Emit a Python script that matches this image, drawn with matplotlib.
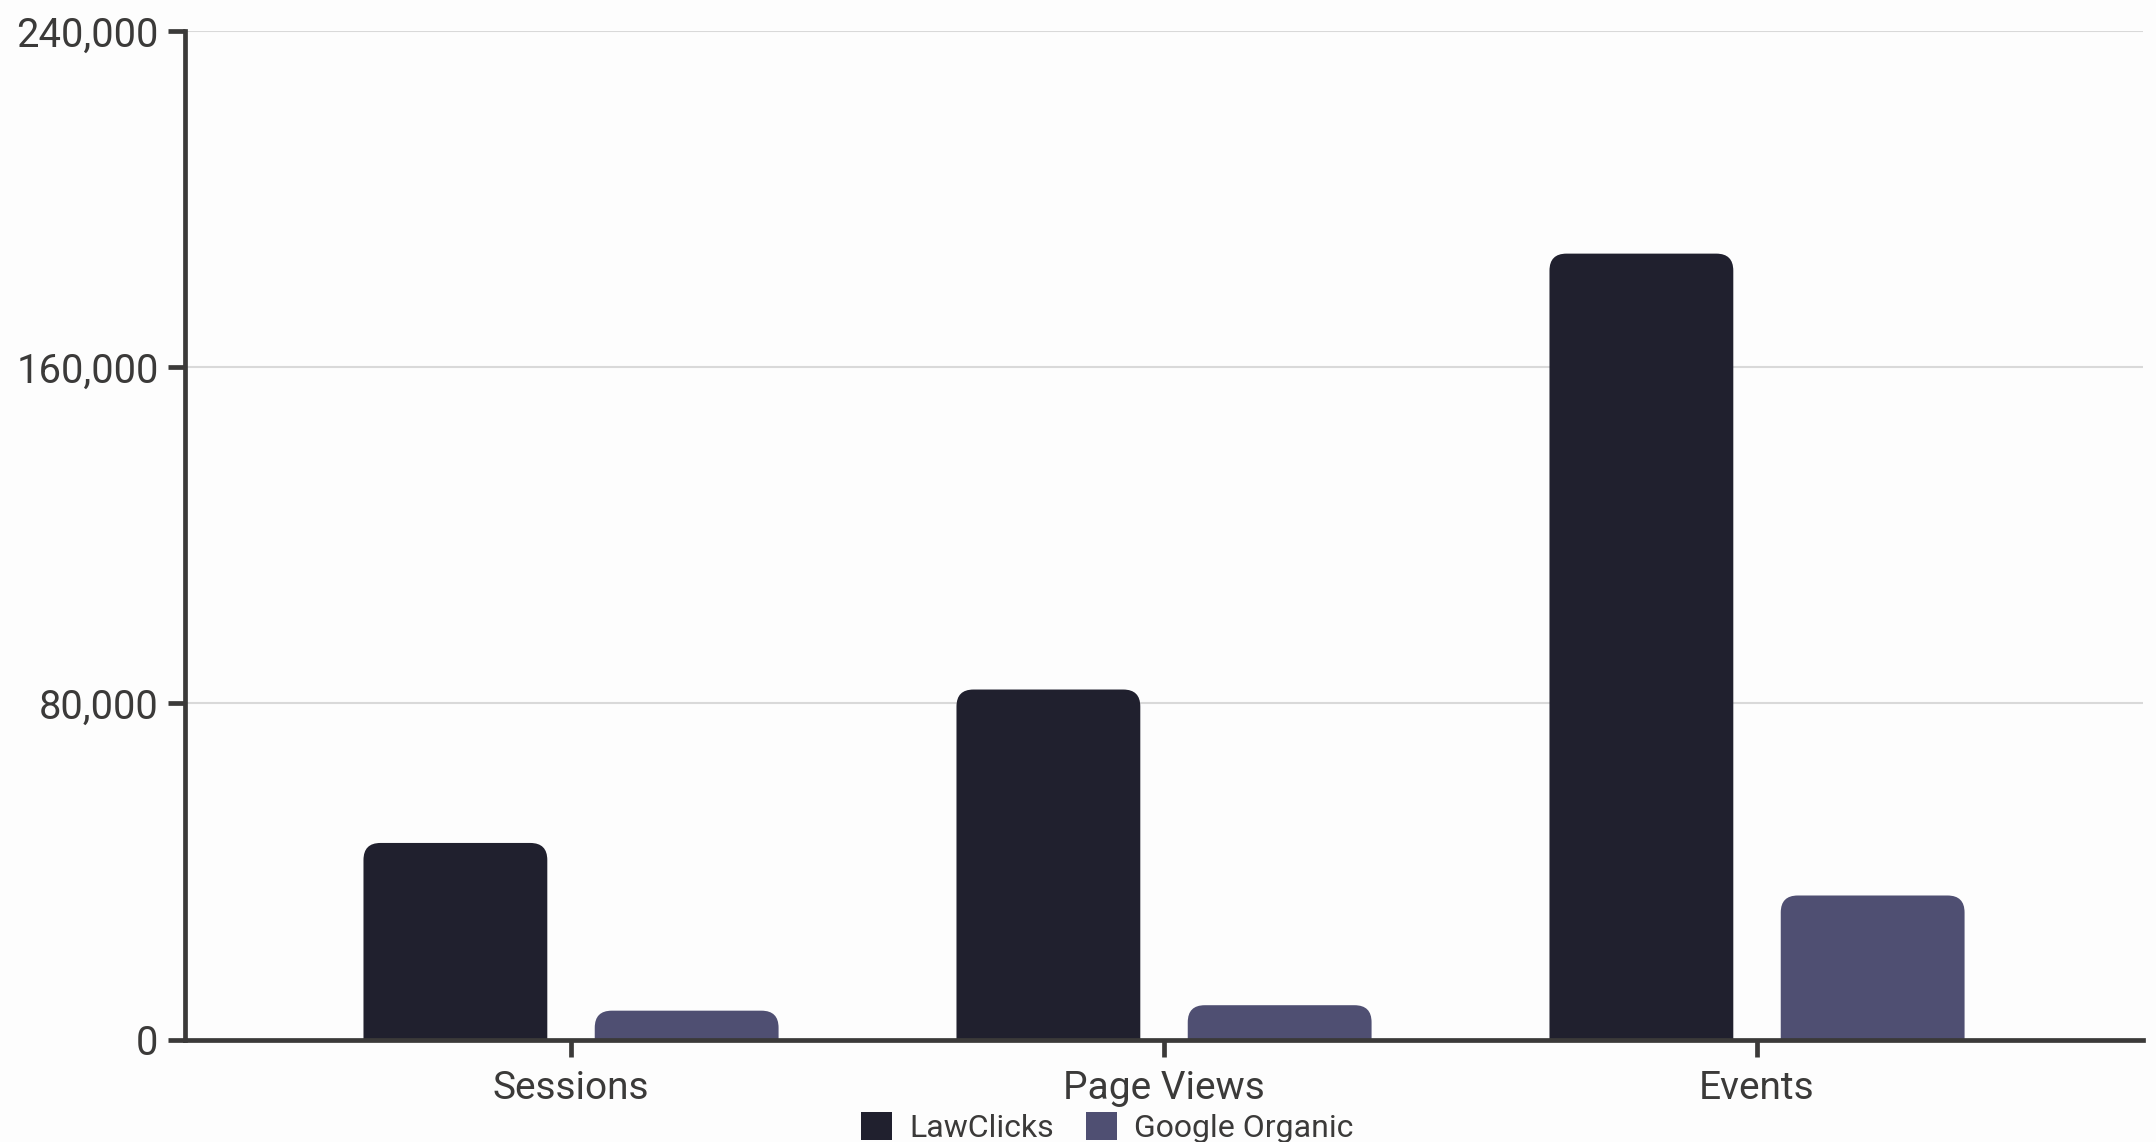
import numpy as np
import matplotlib.pyplot as plt
from matplotlib.patches import FancyBboxPatch, Patch
from matplotlib.ticker import FuncFormatter

# data
categories = ["Sessions", "Page Views", "Events"]
series_names = ["LawClicks", "Google Organic"]
lawclicks = [46800, 83300, 187000]
google_organic = [6900, 8200, 34300]
y_ticks = [0, 80000, 160000, 240000]

BG = "#fdfdfd"
TXT = "#3b3a39"
COLORS = ["#20202e", "#4f4f72"]

plt.rcParams['font.family'] = ['Roboto', 'DejaVu Sans']

fig = plt.figure(figsize=(21.56, 11.42), dpi=100, facecolor=BG)
ax = fig.add_axes([0.0858, 0.0896, 0.9082, 0.8834])
ax.set_facecolor(BG)

x = np.arange(len(categories))
width = 0.31
offset = 0.195
bars_a = ax.bar(x - offset, lawclicks, width, color=COLORS[0])
bars_b = ax.bar(x + offset, google_organic, width, color=COLORS[1])
ax.set_xlim(-0.651, 2.651)
ax.set_ylim(y_ticks[0], y_ticks[-1])

# swap plain bars for ones with rounded tops
px = ax.transData.transform([(0, 0), (1, 1)])
px_per_x = px[1, 0] - px[0, 0]
px_per_y = px[1, 1] - px[0, 1]
aspect = px_per_x / px_per_y
r = 17 / px_per_x
for bars, c in zip([bars_a, bars_b], COLORS):
    for b in bars:
        x0, y0 = b.get_x(), b.get_y()
        w, h = b.get_width(), b.get_height()
        b.remove()
        ax.add_patch(FancyBboxPatch((x0, y0 - r * aspect), w, h + r * aspect,
                                    boxstyle=f"round,pad=0,rounding_size={r}",
                                    mutation_aspect=aspect, facecolor=c,
                                    edgecolor="none", zorder=2))

# axes styling
for s in ["top", "right"]:
    ax.spines[s].set_visible(False)
for s in ["left", "bottom"]:
    ax.spines[s].set_linewidth(3.4)
    ax.spines[s].set_color(TXT)
    ax.spines[s].set_zorder(3)

ax.set_yticks(y_ticks)
ax.yaxis.set_major_formatter(FuncFormatter(lambda v, p: f"{int(v):,}"))
ax.set_xticks(x)
ax.set_xticklabels(categories)
ax.tick_params(axis="y", length=12, width=3.4, color=TXT, labelcolor=TXT,
               labelsize=28.7, pad=7)
ax.tick_params(axis="x", length=12, width=3.4, color=TXT, labelcolor=TXT,
               labelsize=28, pad=10)
ax.yaxis.grid(True, color="#d9d9d9", linewidth=1.5)
ax.set_axisbelow(True)

handles = [Patch(facecolor=c, edgecolor="none") for c in COLORS]
fig.legend(handles, series_names, loc="center", bbox_to_anchor=(0.5135, 0.0125),
           ncol=2, frameon=False, fontsize=23, handlelength=0.97,
           handleheight=0.97, handletextpad=0.55, columnspacing=1.0,
           labelcolor=TXT, borderpad=0)

fig.savefig("out.png", dpi=100, facecolor=BG)
